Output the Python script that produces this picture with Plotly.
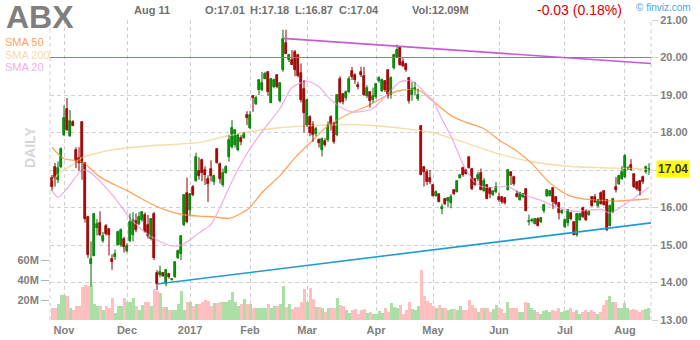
import pandas as pd
import plotly.graph_objects as go

# ---- trading calendar -------------------------------------------------------
holidays = ["2016-11-24", "2016-12-26", "2017-01-02", "2017-01-16",
            "2017-02-20", "2017-04-14", "2017-05-29", "2017-07-04"]
days = pd.bdate_range("2016-10-26", "2017-08-11")
days = days[~days.isin(pd.to_datetime(holidays))]

# ---- daily OHLC -------------------------------------------------------------
opens = [16.78, 17.07, 16.74, 17.07, 17.93, 18.63, 17.92, 18.28, 17.53, 17.32,
         18.28, 17.19, 15.75, 14.50, 14.72, 15.45, 15.60, 15.10, 15.50, 15.42,
         14.63, 14.69, 15.00, 15.00, 15.17, 14.85, 15.12, 15.26, 15.64, 15.57,
         15.66, 15.80, 15.54, 15.17, 15.84, 14.25, 14.21, 14.25, 13.96, 14.24,
         14.07, 14.14, 14.66, 14.76, 15.53, 16.38, 15.93, 16.54, 16.71, 16.98,
         17.26, 17.00, 16.77, 17.03, 16.68, 17.57, 17.17, 16.60, 16.92, 17.35,
         17.62, 17.66, 17.53, 17.86, 17.86, 18.48, 18.11, 18.97, 18.75, 19.13,
         19.13, 19.44, 19.62, 18.80, 19.22, 19.53, 18.84, 19.68, 20.40, 19.93,
         19.93, 20.15, 20.06, 19.60, 19.17, 18.18, 18.42, 18.20, 17.97, 17.80,
         17.53, 17.78, 17.80, 18.42, 18.24, 17.93, 19.44, 19.02, 18.91, 19.09,
         19.65, 19.53, 19.26, 19.62, 19.50, 18.97, 19.07, 18.88, 18.95, 19.38,
         19.12, 19.38, 19.66, 19.00, 19.71, 20.02, 20.27, 19.88, 19.84, 19.46,
         19.01, 19.13, 18.89, 18.18, 17.08, 16.95, 16.80, 16.60, 16.31, 16.35,
         15.97, 16.24, 16.17, 16.13, 16.46, 16.42, 16.79, 17.06, 17.01, 17.34,
         17.04, 16.76, 16.76, 16.93, 16.44, 16.60, 16.51, 16.33, 16.42, 16.29,
         16.27, 16.25, 16.47, 16.94, 16.82, 16.36, 16.20, 16.27, 16.50, 15.61,
         15.64, 15.57, 15.70, 15.61, 15.92, 16.31, 16.32, 16.52, 16.27, 16.12,
         15.85, 15.48, 15.58, 15.85, 15.61, 15.28, 15.67, 15.99, 15.92, 15.81,
         16.27, 16.29, 16.05, 16.40, 16.43, 16.20, 15.52, 15.88, 16.54, 16.63,
         16.76, 16.81, 17.03, 17.13, 16.89, 16.67, 16.72, 16.82, 16.94, 17.01]
highs = [16.87, 17.19, 17.23, 17.60, 18.72, 18.92, 18.60, 18.33, 17.61, 17.61,
         18.30, 17.20, 15.78, 15.10, 15.85, 15.69, 15.90, 15.35, 15.56, 15.45,
         14.75, 14.88, 15.38, 15.44, 15.22, 15.05, 15.84, 15.88, 15.84, 15.88,
         15.90, 15.87, 15.80, 15.72, 15.88, 14.33, 14.45, 14.28, 14.36, 14.26,
         14.12, 14.56, 14.88, 15.26, 16.35, 16.80, 16.38, 16.60, 17.46, 17.34,
         17.30, 17.10, 16.86, 17.26, 16.88, 17.58, 17.20, 17.04, 17.13, 17.93,
         18.33, 18.08, 17.97, 17.93, 18.02, 18.57, 18.57, 19.00, 18.97, 19.42,
         19.62, 19.62, 19.64, 19.46, 19.44, 19.55, 19.33, 20.74, 20.74, 20.10,
         20.20, 20.20, 20.10, 19.84, 19.40, 18.90, 18.46, 18.30, 18.15, 17.85,
         17.87, 17.85, 18.30, 18.46, 18.28, 19.02, 19.50, 19.05, 19.12, 19.50,
         19.75, 19.58, 19.35, 19.75, 19.75, 19.26, 19.10, 19.20, 19.32, 19.50,
         19.44, 19.40, 19.68, 19.50, 20.10, 20.35, 20.30, 19.98, 19.86, 19.48,
         19.35, 19.35, 19.17, 18.20, 17.10, 17.02, 17.00, 16.62, 16.46, 16.36,
         16.10, 16.26, 16.28, 16.36, 16.49, 16.72, 16.88, 17.09, 17.03, 17.35,
         17.06, 16.78, 16.95, 17.04, 16.79, 16.62, 16.55, 16.45, 16.68, 16.40,
         16.30, 16.28, 17.02, 16.95, 16.85, 16.45, 16.42, 16.38, 16.52, 15.81,
         15.72, 15.72, 15.74, 15.75, 16.10, 16.49, 16.46, 16.54, 16.30, 16.15,
         15.95, 15.70, 15.96, 15.88, 15.63, 15.85, 15.86, 16.02, 15.95, 15.92,
         16.30, 16.36, 16.23, 16.43, 16.46, 16.23, 16.08, 16.26, 16.81, 16.88,
         17.10, 17.42, 17.10, 17.29, 16.90, 16.70, 16.74, 16.85, 17.12, 17.18]
lows = [16.45, 16.56, 16.65, 17.05, 17.90, 18.04, 17.88, 18.17, 17.05, 16.98,
        16.74, 15.60, 14.65, 13.90, 14.70, 15.25, 15.24, 15.06, 15.25, 14.72,
        14.34, 14.60, 14.98, 14.95, 14.80, 14.80, 15.08, 15.10, 15.34, 15.53,
        15.62, 15.34, 15.17, 15.12, 14.60, 13.80, 14.14, 14.15, 13.90, 14.10,
        14.05, 14.12, 14.63, 14.60, 15.50, 15.58, 15.80, 16.30, 16.69, 16.74,
        16.70, 16.60, 16.15, 16.70, 16.60, 17.17, 16.64, 16.55, 16.90, 17.22,
        17.57, 17.60, 17.50, 17.66, 17.83, 18.20, 18.09, 18.55, 18.73, 19.00,
        19.10, 19.42, 18.98, 18.78, 19.18, 19.18, 18.80, 19.62, 20.09, 19.88,
        19.80, 19.50, 19.47, 18.80, 18.00, 18.15, 17.90, 17.75, 17.90, 17.60,
        17.36, 17.62, 17.75, 18.05, 17.70, 17.90, 18.78, 18.75, 18.85, 19.05,
        19.40, 19.30, 19.15, 19.48, 18.97, 18.92, 18.66, 18.80, 18.90, 19.33,
        19.08, 19.08, 18.90, 18.90, 19.68, 20.00, 19.78, 19.74, 19.62, 18.77,
        18.85, 19.00, 18.84, 16.86, 16.56, 16.60, 16.62, 16.29, 16.29, 16.14,
        15.82, 16.06, 16.00, 15.98, 16.33, 16.40, 16.77, 16.82, 16.88, 17.04,
        16.46, 16.58, 16.70, 16.46, 16.42, 16.22, 16.25, 16.31, 16.38, 16.15,
        16.10, 16.08, 16.45, 16.60, 16.58, 16.27, 16.18, 16.25, 15.90, 15.52,
        15.60, 15.55, 15.50, 15.58, 15.85, 16.28, 16.30, 15.96, 16.05, 15.68,
        15.82, 15.45, 15.50, 15.66, 15.26, 15.22, 15.64, 15.72, 15.64, 15.78,
        16.02, 16.12, 16.00, 16.08, 16.05, 15.37, 15.50, 15.85, 16.40, 16.60,
        16.74, 16.78, 17.00, 16.98, 16.52, 16.45, 16.32, 16.63, 16.90, 16.87]
closes = [16.56, 16.78, 17.05, 17.57, 18.38, 18.07, 18.31, 18.18, 17.25, 17.19,
          17.19, 15.69, 14.73, 14.63, 15.83, 15.55, 15.27, 15.24, 15.30, 15.26,
          14.55, 14.76, 15.35, 15.40, 14.95, 14.97, 15.62, 15.66, 15.39, 15.75,
          15.87, 15.36, 15.24, 15.69, 14.66, 13.96, 14.27, 14.18, 14.33, 14.14,
          14.09, 14.54, 14.85, 15.24, 16.33, 15.62, 16.35, 16.33, 17.34, 16.85,
          16.91, 16.87, 16.64, 16.83, 16.84, 17.20, 16.77, 16.91, 17.09, 17.81,
          18.11, 18.06, 17.93, 17.75, 18.00, 18.39, 18.46, 18.91, 18.92, 19.40,
          19.31, 19.57, 19.08, 19.44, 19.40, 19.22, 19.31, 20.49, 20.10, 20.08,
          19.81, 19.66, 19.50, 18.86, 18.53, 18.88, 17.98, 17.93, 18.10, 17.73,
          17.84, 17.67, 18.20, 18.24, 17.76, 19.00, 18.82, 18.82, 19.09, 19.44,
          19.49, 19.40, 19.22, 19.53, 19.00, 19.20, 18.85, 18.97, 19.30, 19.46,
          19.40, 19.13, 18.97, 19.45, 20.08, 20.20, 19.80, 19.78, 19.66, 18.84,
          19.17, 19.19, 19.01, 16.88, 16.95, 16.68, 16.68, 16.31, 16.42, 16.15,
          16.02, 16.10, 16.26, 16.28, 16.35, 16.70, 16.86, 16.86, 16.90, 17.06,
          16.49, 16.60, 16.88, 16.47, 16.70, 16.24, 16.35, 16.44, 16.55, 16.19,
          16.16, 16.12, 17.00, 16.84, 16.62, 16.29, 16.40, 16.36, 15.92, 15.64,
          15.67, 15.70, 15.52, 15.73, 16.08, 16.47, 16.45, 16.14, 16.10, 15.85,
          15.92, 15.66, 15.94, 15.70, 15.28, 15.83, 15.83, 15.76, 15.67, 15.89,
          16.05, 16.14, 16.20, 16.10, 16.08, 15.41, 16.03, 16.23, 16.47, 16.85,
          16.95, 17.38, 17.06, 17.00, 16.54, 16.50, 16.45, 16.67, 17.07, 17.04]

# ---- daily volume, millions of shares ---------------------------------------
volume_m = [12, 12, 16, 25, 25, 24, 12, 10, 14, 14,
            33, 35, 34, 35, 16, 14, 14, 10, 14, 12,
            22, 7, 14, 14, 22, 18, 18, 22, 14, 10,
            15, 18, 18, 14, 31, 29, 27, 13, 13, 10,
            10, 10, 16, 29, 10, 18, 18, 14, 16, 16,
            18, 20, 19, 14, 17, 17, 18, 18, 18, 20,
            28, 18, 14, 16, 21, 16, 16, 12, 12, 12,
            12, 12, 16, 12, 14, 14, 16, 34, 13, 16,
            11, 13, 13, 18, 31, 18, 32, 21, 13, 13,
            12, 8, 12, 12, 12, 22, 15, 14, 10, 7,
            10, 11, 6, 10, 11, 7, 8, 6, 6, 9,
            7, 12, 8, 17, 13, 12, 15, 6, 10, 18,
            11, 10, 14, 50, 24, 19, 17, 14, 12, 15,
            12, 12, 10, 11, 11, 10, 14, 10, 10, 20,
            15, 12, 8, 12, 12, 12, 8, 11, 15, 12,
            11, 7, 18, 12, 12, 12, 8, 8, 18, 17,
            12, 10, 8, 6, 9, 10, 8, 10, 9, 12,
            8, 9, 10, 12, 8, 10, 6, 8, 10, 8,
            10, 8, 6, 8, 15, 20, 24, 18, 18, 12,
            12, 17, 12, 10, 11, 10, 8, 10, 11, 12.09]

# ---- moving averages (bar index, value) --------------------------------------
sma200_idx = [0, 3, 7, 10, 15, 21, 32, 40, 49, 58, 66, 75, 83, 91, 99, 108,
              116, 127, 133, 138, 149, 160, 172, 183, 194, 199]
sma200_val = [16.72, 16.95, 17.15, 17.33, 17.45, 17.55, 17.64, 17.68, 17.73,
              17.90, 18.02, 18.12, 18.17, 18.20, 18.21, 18.18, 18.12, 18.00,
              17.85, 17.72, 17.43, 17.22, 17.10, 17.06, 17.04, 17.01]
sma50_idx = [0, 4, 10, 16, 25, 33, 38, 43, 49, 54, 59, 62, 66, 70, 76, 81, 87,
             92, 99, 105, 110, 115, 120, 123, 126, 133, 138, 144, 149, 155, 160,
             166, 172, 177, 183, 188, 194, 199]
sma50_val = [17.60, 17.30, 17.22, 16.81, 16.45, 16.10, 15.93, 15.82, 15.77,
             15.75, 15.71, 15.80, 16.00, 16.40, 16.85, 17.33, 17.80, 18.18,
             18.50, 18.70, 18.92, 19.10, 19.15, 19.10, 18.90, 18.45, 18.27,
             18.10, 17.80, 17.50, 17.17, 16.65, 16.33, 16.23, 16.19, 16.17,
             16.20, 16.23]
sma20_idx = [0, 2, 5, 10, 12, 15, 21, 26, 32, 38, 41, 44, 49, 53, 56, 60, 65,
             70, 76, 80, 85, 89, 92, 96, 100, 104, 107, 112, 116, 120, 125, 127,
             130, 133, 138, 142, 146, 152, 156, 163, 168, 174, 178, 183, 186,
             192, 199]
sma20_val = [16.45, 16.27, 16.50, 17.00, 16.97, 16.78, 16.25, 15.72, 15.28,
             15.02, 14.97, 15.03, 15.32, 15.55, 16.00, 16.70, 17.44, 18.02,
             18.64, 19.20, 19.37, 19.22, 18.95, 18.68, 18.55, 18.57, 18.64,
             19.04, 19.35, 19.38, 19.00, 18.85, 18.35, 17.90, 17.00, 16.60,
             16.53, 16.56, 16.38, 16.19, 16.01, 15.90, 15.92, 15.95, 15.85,
             16.14, 16.54]

# ---- trend lines (bar index, price) ------------------------------------------
resistance_idx = [77, 199.67]
resistance_val = [20.51, 19.84]
support_idx = [35, 199.67]
support_val = [13.96, 15.59]
level_value = 20.00

# ---- colours ----------------------------------------------------------------
UP_FILL, UP_EDGE = "#00d100", "#006b00"
DN_FILL, DN_EDGE = "#f00000", "#8a0000"
VOL_UP, VOL_DN = "#aadfa6", "#ffbfbf"
SMA20_C, SMA50_C, SMA200_C = "#f2b0e4", "#ffa35e", "#f6dba6"
GRID = "#d0d0d0"
LABEL = "#808080"
FONT = "Liberation Sans, Arial, sans-serif"

n = len(closes)
xs = list(range(n))
up = [c >= o for o, c in zip(opens, closes)]

# plot frame in pixels
L, R, T, B = 50, 651, 20, 320
def ax(px):
    return (px - L) / (R - L)
def ay(py):
    return (B - py) / (B - T)

fig = go.Figure()

# volume (base axis, drawn underneath)
fig.add_trace(go.Bar(
    x=xs, y=[v * 1e6 for v in volume_m], width=1.0,
    marker=dict(color=[VOL_UP if u else VOL_DN for u in up], line=dict(width=0)),
    yaxis="y", hoverinfo="skip"))

# moving averages
for idx, val, col in [(sma200_idx, sma200_val, SMA200_C),
                      (sma50_idx, sma50_val, SMA50_C),
                      (sma20_idx, sma20_val, SMA20_C)]:
    fig.add_trace(go.Scatter(x=idx, y=val, mode="lines", yaxis="y2",
                             line=dict(color=col, width=1.3, shape="spline",
                                       smoothing=0.7),
                             hoverinfo="skip"))

# wicks
for flag, col in [(True, UP_EDGE), (False, DN_EDGE)]:
    wx, wy = [], []
    for i in xs:
        if up[i] == flag:
            wx += [i, i, None]
            wy += [lows[i], highs[i], None]
    fig.add_trace(go.Scatter(x=wx, y=wy, mode="lines", yaxis="y2",
                             line=dict(color=col, width=1), hoverinfo="skip"))

# candle bodies
body_base = [min(o, c) for o, c in zip(opens, closes)]
body_h = [max(abs(c - o), 0.03) for o, c in zip(opens, closes)]
fig.add_trace(go.Bar(
    x=xs, y=body_h, base=body_base, width=0.78, yaxis="y2",
    marker=dict(color=[UP_FILL if u else DN_FILL for u in up],
                line=dict(color=[UP_EDGE if u else DN_EDGE for u in up],
                          width=0.7)),
    hoverinfo="skip"))

# trend lines and the 20.00 level
fig.add_trace(go.Scatter(x=[-0.67, 199.67], y=[level_value, level_value],
                         mode="lines", yaxis="y2",
                         line=dict(color="#7b7bc6", width=1), hoverinfo="skip"))
fig.add_trace(go.Scatter(x=resistance_idx, y=resistance_val, mode="lines",
                         yaxis="y2", line=dict(color="#c65ad6", width=1.6),
                         hoverinfo="skip"))
fig.add_trace(go.Scatter(x=support_idx, y=support_val, mode="lines",
                         yaxis="y2", line=dict(color="#1f9ad8", width=1.6),
                         hoverinfo="skip"))

# month ticks
month_pos, month_txt = [], []
for i in range(1, n):
    if days[i].month != days[i - 1].month:
        month_pos.append(i)
        month_txt.append(str(days[i].year) if days[i].month == 1
                         else days[i].strftime("%b"))

price_ticks = list(range(13, 22))
last = closes[-1]
price_text = ["" if abs(p - last) < 0.5 else f"{p:.2f}" for p in price_ticks]

tick_font = dict(family=FONT, size=11, color=LABEL, weight="bold")

fig.update_layout(
    width=700, height=340,
    margin=dict(l=L, r=700 - R, t=T, b=340 - B),
    paper_bgcolor="white", plot_bgcolor="white",
    showlegend=False, barmode="overlay", bargap=0,
    xaxis=dict(range=[-0.67, 199.67], tickmode="array", tickvals=month_pos,
               ticktext=month_txt, showgrid=True, gridcolor=GRID,
               griddash="4px,3px", gridwidth=1, zeroline=False, showline=False,
               ticks="", ticklabelstandoff=2, automargin=False,
               tickfont=tick_font, fixedrange=True),
    yaxis=dict(range=[0, 300e6], side="left", tickmode="array",
               tickvals=[20e6, 40e6, 60e6], ticktext=["20M", "40M", "60M"],
               showgrid=False, zeroline=False, ticks="outside", ticklen=8,
               tickcolor="#b0b0b0", tickfont=tick_font, automargin=False,
               fixedrange=True),
    yaxis2=dict(range=[13, 21], side="right", overlaying="y", tickmode="array",
                tickvals=price_ticks, ticktext=price_text, showgrid=True,
                gridcolor=GRID, griddash="4px,3px", gridwidth=1,
                zeroline=False, ticks="outside", ticklen=6, tickcolor=GRID,
                tickfont=tick_font, automargin=False, fixedrange=True),
)

# dashed frame edges
for xp in (0, 1):
    fig.add_shape(type="line", xref="paper", yref="paper", x0=xp, x1=xp,
                  y0=0, y1=1, line=dict(color=GRID, width=1, dash="4px,3px"),
                  layer="below")

change = closes[-1] - closes[-2]
pct = abs(change) / closes[-2] * 100
hdr = dict(family=FONT, size=11, color="#707070", weight="bold")
annotations = [
    dict(text="ABX", x=ax(4), y=ay(17), xanchor="left", yanchor="middle",
         font=dict(family=FONT, size=32, color="#7f7f7f", weight="bold")),
    dict(text=days[-1].strftime("%b %d").replace(" 0", " "), x=ax(132),
         y=ay(10.5), xanchor="left", yanchor="middle", font=hdr),
    dict(text=f"O:{opens[-1]:.2f}", x=ax(203), y=ay(10.5), xanchor="left",
         yanchor="middle", font=hdr),
    dict(text=f"H:{highs[-1]:.2f}", x=ax(248), y=ay(10.5), xanchor="left",
         yanchor="middle", font=hdr),
    dict(text=f"L:{lows[-1]:.2f}", x=ax(293), y=ay(10.5), xanchor="left",
         yanchor="middle", font=hdr),
    dict(text=f"C:{closes[-1]:.2f}", x=ax(337), y=ay(10.5), xanchor="left",
         yanchor="middle", font=hdr),
    dict(text=f"Vol:{volume_m[-1]:.2f}M", x=ax(410), y=ay(10.5),
         xanchor="left", yanchor="middle", font=hdr),
    dict(text=f"{change:+.2f} ({pct:.2f}%)".replace("+", ""), x=ax(535),
         y=ay(10), xanchor="left", yanchor="middle",
         font=dict(family=FONT, size=14, color="#d40000")),
    dict(text="\u00a9 finviz.com", x=ax(634), y=ay(8), xanchor="left",
         yanchor="middle", font=dict(family=FONT, size=10, color="#4da3e6")),
    dict(text="SMA 50", x=ax(3), y=ay(42.5), xanchor="left", yanchor="middle",
         font=dict(family=FONT, size=11, color=SMA50_C)),
    dict(text="SMA 200", x=ax(3), y=ay(54.5), xanchor="left",
         yanchor="middle", font=dict(family=FONT, size=11, color=SMA200_C)),
    dict(text="SMA 20", x=ax(3), y=ay(66.5), xanchor="left", yanchor="middle",
         font=dict(family=FONT, size=11, color=SMA20_C)),
    dict(text="DAILY", x=ax(30), y=ay(148), textangle=-90, xanchor="center",
         yanchor="middle",
         font=dict(family=FONT, size=14, color="#d6d6d6", weight="bold")),
    dict(text=f"{last:.2f}", x=ax(673), y=last, yref="y2", xanchor="center",
         yanchor="middle", bgcolor="#ffff00", borderpad=1,
         font=dict(family=FONT, size=12, color="#333333", weight="bold")),
]
for a in annotations:
    a.setdefault("xref", "paper")
    a.setdefault("yref", "paper")
    a["showarrow"] = False
fig.update_layout(annotations=annotations)

fig.write_html("out.html", config={"displayModeBar": False})
